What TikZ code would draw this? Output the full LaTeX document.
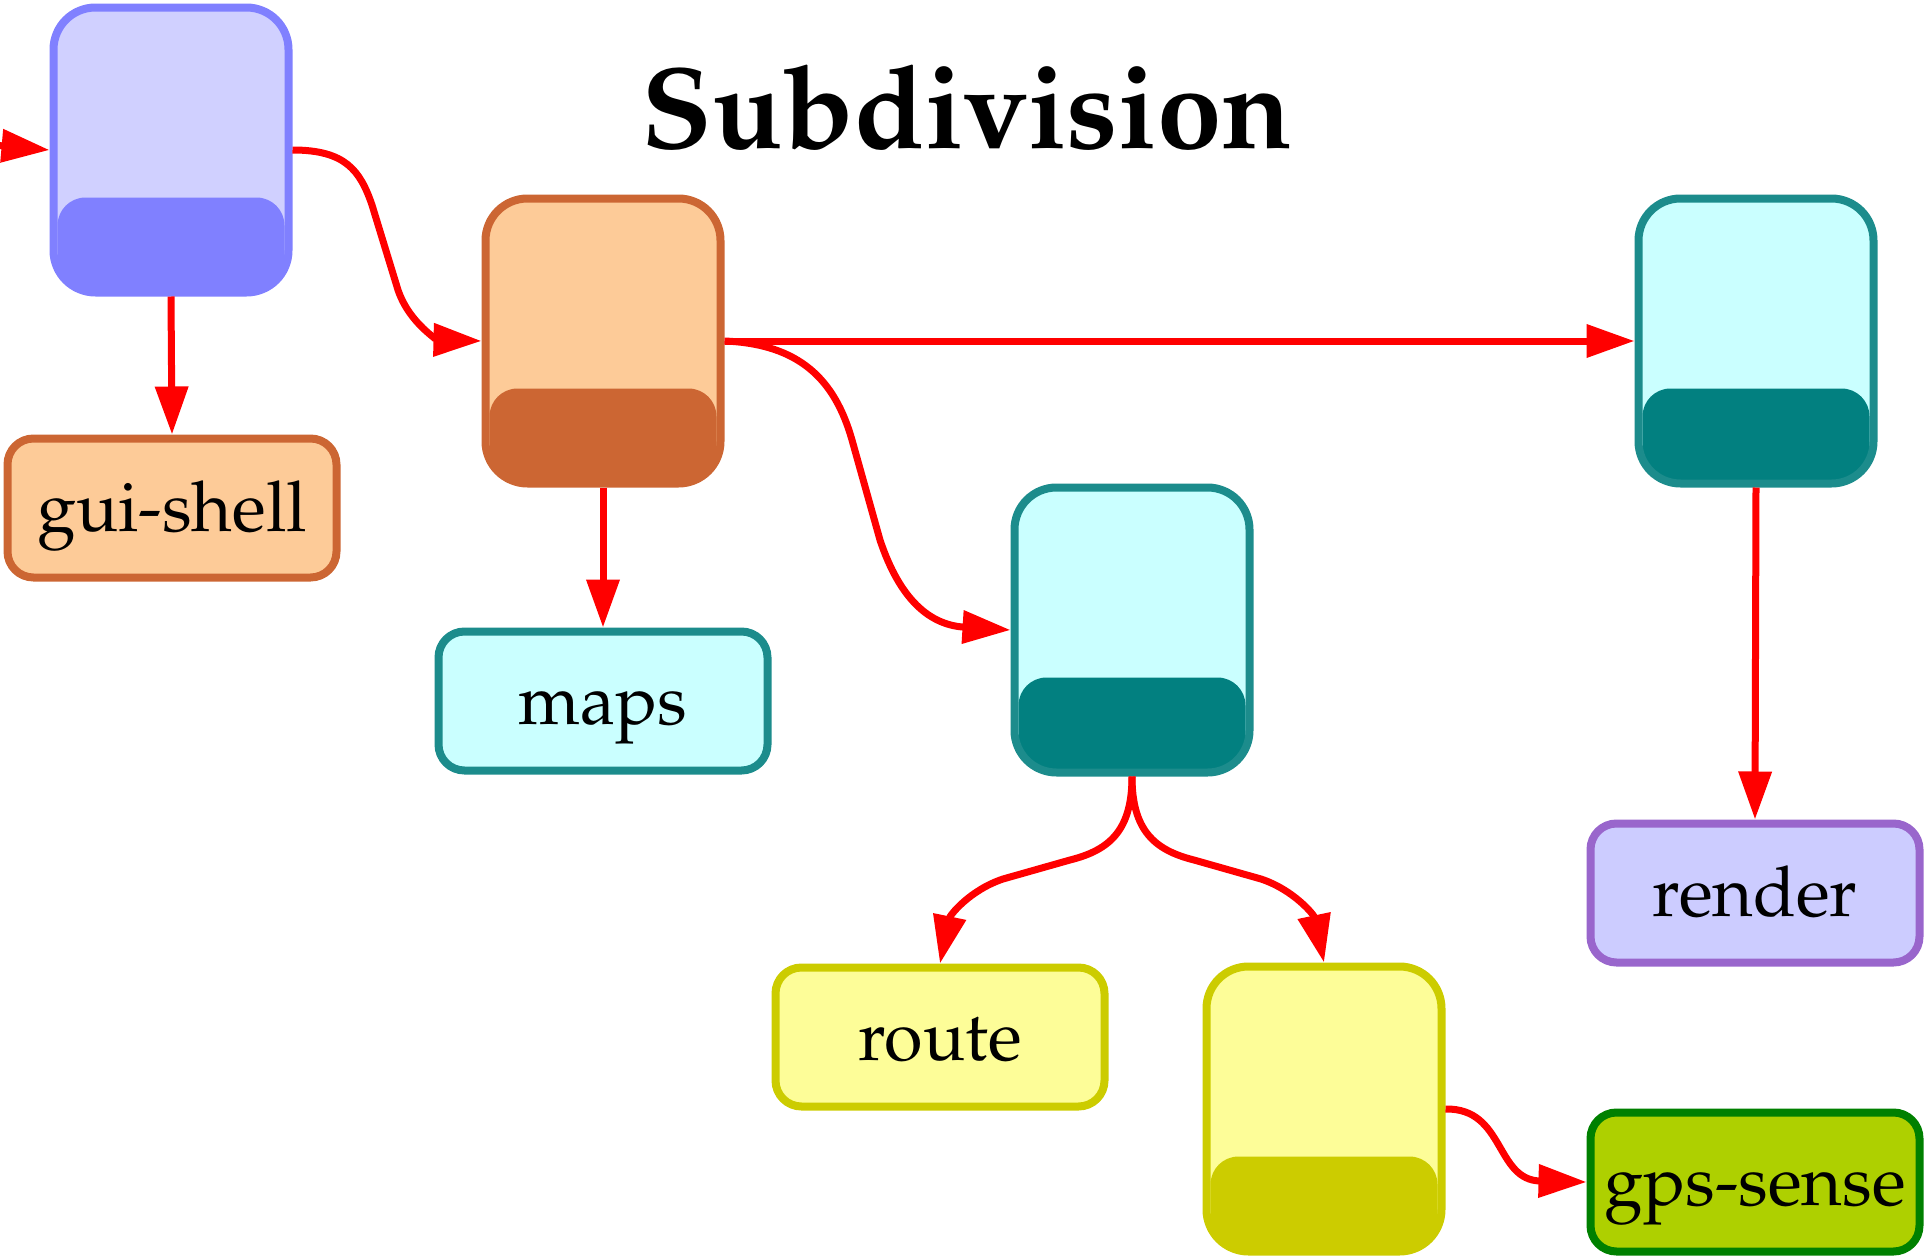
\documentclass[tikz,border=0pt]{standalone}
\usepackage[T1]{fontenc}
\usepackage{mathpazo}
\usetikzlibrary{arrows.meta}

\definecolor{blueLt}{HTML}{D0D0FF}
\definecolor{blueDk}{HTML}{8080FF}
\definecolor{peachLt}{HTML}{FDCB98}
\definecolor{peachDk}{HTML}{CC6633}
\definecolor{cyanLt}{HTML}{CAFFFF}
\definecolor{cyanBd}{HTML}{1C8C8C}
\definecolor{cyanDk}{HTML}{028080}
\definecolor{yellowLt}{HTML}{FDFD98}
\definecolor{yellowDk}{HTML}{CCCC00}
\definecolor{lilacLt}{HTML}{CCCCFF}
\definecolor{lilacBd}{HTML}{9966CC}
\definecolor{limeLt}{HTML}{AED000}
\definecolor{limeBd}{HTML}{008000}

\tikzset{
  % tall container: light body, darker band along the bottom
  tall/.style n args={3}{draw=#3, fill=#1, line width=4pt,
    rounded corners=21pt, minimum width=117.5pt, minimum height=142.5pt,
    inner sep=0pt,
    path picture={\fill[#2, rounded corners=14pt]
      ([xshift=2pt,yshift=-30pt]path picture bounding box.south west)
      rectangle ([xshift=-2pt,yshift=47.5pt]path picture bounding box.south east);}},
  % labelled leaf box
  leaf/.style 2 args={draw=#2, fill=#1, line width=4pt,
    rounded corners=13pt, minimum width=164.5pt, minimum height=69.5pt,
    inner sep=0pt, text height=24pt, text depth=0.6pt,
    font=\fontsize{35}{40}\selectfont},
  conn/.style={red, line width=3.5pt, -{Triangle[length=24pt,width=16pt]}}
}

\begin{document}
\begin{tikzpicture}[x=0.5pt,y=-0.5pt]
\useasboundingbox (0,0) rectangle (1929,1258);

\node[font=\bfseries\fontsize{58}{64}\selectfont, anchor=base] (title) at (967,148) {Subdivision};

% containers
\node[tall={blueLt}{blueDk}{blueDk}]      (A) at (171,150)  {};
\node[tall={peachLt}{peachDk}{peachDk}]   (B) at (603,341)  {};
\node[tall={cyanLt}{cyanDk}{cyanBd}]      (C) at (1132,630) {};
\node[tall={cyanLt}{cyanDk}{cyanBd}]      (D) at (1756,341) {};
\node[tall={yellowLt}{yellowDk}{yellowDk}](E) at (1324,1109) {};

% leaves
\node[leaf={peachLt}{peachDk}]   (gui)    at (172,508)  {gui-shell};
\node[leaf={cyanLt}{cyanBd}]     (maps)   at (603,701)  {maps};
\node[leaf={lilacLt}{lilacBd}]   (render) at (1755,893) {render};
\node[leaf={yellowLt}{yellowDk}] (route)  at (940,1037) {route};
\node[leaf={limeLt}{limeBd}]     (gps)    at (1755,1182) {gps-sense};

% connectors
\coordinate (in) at (-30,143);
\draw[conn] (in) -- (A.west);
\draw[conn] (A.south) -- (gui.north);
\draw[conn] (A.east) .. controls (345,150) and (360,170) .. (372,205)
  -- (398,290) .. controls (410,325) and (440,340) .. (B.west);
\draw[conn] (B.south) -- (maps.north);
\draw[conn] (B.east) -- (D.west);
\draw[conn] (B.east) .. controls (800,344) and (835,380) .. (852,440)
  -- (880,540) .. controls (900,600) and (930,625) .. (C.west);
\draw[conn] (D.south) -- (render.north);
\draw[conn] (C.south) .. controls (1132,830) and (1110,850) .. (1070,860)
  -- (1003,879) .. controls (970,890) and (950,915) .. (route.north);
\draw[conn] (C.south) .. controls (1132,830) and (1154,850) .. (1194,860)
  -- (1261,879) .. controls (1294,890) and (1314,915) .. (E.north);
\draw[conn] (E.east) .. controls (1505,1108) and (1495,1180) .. (gps.west);
\end{tikzpicture}
\end{document}
